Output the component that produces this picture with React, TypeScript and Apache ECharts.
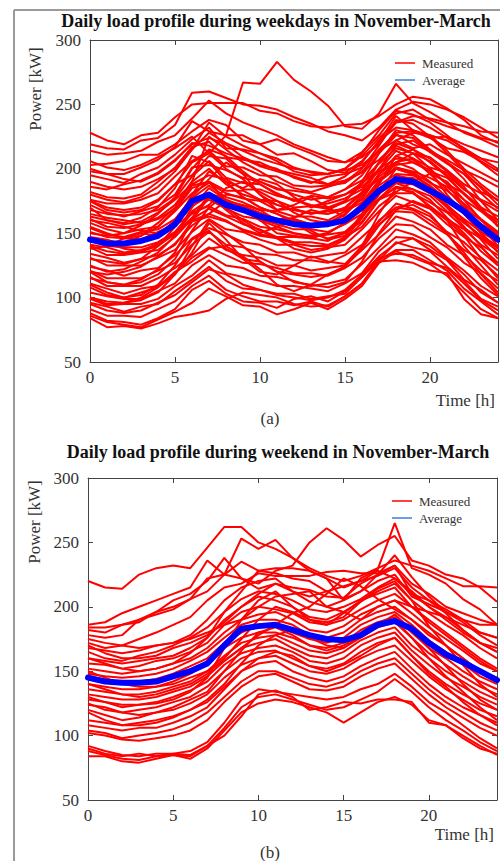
import React, { useEffect, useRef } from "react";
import * as echarts from "echarts";

const HOURS = [0, 1, 2, 3, 4, 5, 6, 7, 8, 9, 10, 11, 12, 13, 14, 15, 16, 17, 18, 19, 20, 21, 22, 23, 24];
const X_TICKS = [0, 5, 10, 15, 20];
const Y_TICKS = [50, 100, 150, 200, 250, 300];

const WEEKDAY_AVG = [145, 142, 142, 144, 148, 157, 175, 180, 172, 168, 163, 160, 157, 156, 157, 160, 170, 183, 192, 190, 183, 176, 167, 155, 145];
const WEEKEND_AVG = [145, 142, 141, 141, 142, 146, 150, 156, 170, 183, 185, 186, 182, 178, 175, 174, 178, 186, 189, 183, 172, 163, 157, 150, 143];

const WEEKDAY_MEASURED: number[][] = [
  [228, 222, 219, 226, 228, 240, 250, 251, 251, 251, 245, 243, 237, 233, 232, 234, 235, 241, 250, 256, 254, 247, 238, 226, 220],
  [219, 216, 215, 222, 224, 234, 259, 260, 255, 250, 249, 246, 240, 235, 229, 226, 222, 232, 246, 252, 250, 246, 240, 232, 224],
  [206, 201, 199, 203, 209, 216, 225, 212, 226, 267, 266, 283, 269, 260, 249, 233, 231, 243, 266, 251, 244, 236, 228, 223, 217],
  [214, 211, 212, 214, 221, 226, 239, 253, 243, 236, 231, 226, 219, 214, 209, 205, 213, 226, 243, 246, 238, 233, 229, 224, 221],
  [203, 204, 206, 211, 211, 219, 229, 238, 234, 222, 219, 223, 217, 212, 206, 205, 209, 219, 236, 241, 239, 236, 233, 229, 228],
  [198, 196, 196, 201, 207, 217, 237, 229, 226, 226, 219, 211, 212, 206, 199, 197, 206, 221, 241, 230, 224, 225, 219, 214, 209],
  [195, 192, 189, 196, 201, 211, 223, 232, 216, 215, 212, 208, 201, 197, 196, 199, 203, 214, 228, 229, 224, 216, 213, 206, 198],
  [186, 184, 188, 191, 197, 207, 219, 224, 219, 209, 203, 200, 193, 189, 194, 196, 201, 214, 222, 216, 219, 211, 204, 197, 190],
  [182, 178, 177, 180, 190, 201, 217, 221, 209, 207, 205, 199, 196, 193, 188, 191, 197, 215, 227, 219, 214, 207, 199, 193, 186],
  [176, 173, 173, 176, 181, 194, 206, 214, 202, 201, 195, 194, 187, 186, 187, 189, 198, 207, 219, 222, 213, 204, 196, 182, 176],
  [172, 166, 163, 167, 171, 180, 201, 203, 199, 193, 190, 184, 183, 181, 178, 184, 191, 204, 216, 212, 209, 199, 188, 181, 169],
  [168, 165, 164, 165, 168, 177, 194, 206, 193, 189, 188, 181, 175, 179, 177, 180, 189, 199, 214, 208, 201, 197, 184, 175, 167],
  [163, 160, 157, 159, 166, 176, 188, 195, 192, 184, 184, 179, 176, 171, 173, 177, 184, 200, 208, 207, 198, 193, 181, 170, 163],
  [161, 155, 154, 157, 161, 169, 187, 190, 183, 183, 176, 175, 170, 171, 169, 174, 181, 194, 203, 205, 199, 188, 181, 168, 158],
  [158, 153, 150, 153, 155, 167, 181, 189, 181, 177, 175, 168, 169, 165, 167, 169, 181, 192, 201, 198, 193, 186, 176, 167, 156],
  [154, 149, 147, 151, 153, 161, 177, 187, 178, 174, 168, 167, 163, 163, 160, 167, 174, 191, 201, 197, 189, 183, 173, 161, 151],
  [151, 147, 146, 145, 151, 157, 174, 181, 176, 171, 166, 161, 161, 157, 159, 160, 173, 187, 196, 195, 187, 176, 169, 157, 149],
  [147, 145, 141, 144, 148, 156, 171, 179, 170, 169, 164, 159, 158, 155, 157, 161, 169, 183, 193, 193, 184, 177, 165, 156, 145],
  [146, 140, 139, 139, 143, 151, 167, 176, 169, 163, 161, 157, 153, 153, 151, 157, 165, 181, 189, 188, 181, 171, 161, 151, 143],
  [141, 139, 135, 137, 141, 149, 166, 171, 164, 161, 155, 153, 150, 147, 149, 151, 163, 177, 189, 184, 179, 167, 159, 147, 139],
  [139, 133, 133, 135, 137, 147, 161, 169, 163, 157, 153, 147, 147, 146, 144, 151, 159, 176, 186, 181, 174, 166, 154, 146, 136],
  [134, 131, 127, 130, 133, 141, 159, 163, 159, 153, 149, 147, 143, 143, 141, 147, 155, 171, 181, 181, 171, 161, 153, 141, 133],
  [131, 125, 125, 125, 131, 137, 151, 161, 153, 151, 145, 141, 141, 137, 139, 141, 153, 167, 179, 174, 169, 157, 147, 139, 127],
  [124, 121, 117, 121, 123, 133, 146, 154, 149, 143, 141, 135, 135, 131, 133, 135, 147, 159, 173, 169, 163, 151, 143, 131, 121],
  [121, 115, 115, 115, 121, 127, 141, 151, 141, 139, 134, 133, 129, 129, 127, 133, 141, 157, 167, 166, 157, 149, 137, 129, 117],
  [116, 109, 109, 109, 115, 123, 133, 146, 137, 133, 131, 125, 125, 121, 123, 125, 137, 149, 163, 159, 153, 141, 133, 121, 113],
  [111, 107, 103, 107, 109, 119, 131, 139, 133, 127, 126, 123, 119, 119, 117, 123, 131, 146, 157, 156, 147, 139, 127, 119, 107],
  [104, 101, 99, 99, 105, 111, 125, 133, 125, 123, 117, 116, 113, 109, 111, 114, 126, 139, 153, 149, 143, 131, 121, 109, 101],
  [99, 94, 95, 95, 99, 109, 117, 129, 119, 116, 113, 109, 109, 107, 105, 111, 119, 136, 147, 146, 137, 129, 114, 106, 96],
  [96, 93, 89, 93, 95, 105, 114, 124, 113, 107, 106, 103, 103, 99, 101, 103, 116, 129, 143, 139, 136, 124, 113, 99, 93],
  [91, 86, 86, 85, 91, 97, 109, 117, 106, 101, 97, 97, 94, 97, 93, 101, 111, 129, 137, 137, 129, 121, 107, 97, 87],
  [86, 81, 79, 77, 83, 89, 96, 107, 101, 94, 93, 87, 91, 96, 91, 99, 109, 127, 136, 131, 126, 117, 104, 91, 84],
  [84, 77, 78, 76, 80, 85, 87, 90, 99, 104, 102, 100, 95, 93, 94, 101, 111, 128, 129, 127, 121, 119, 99, 87, 84],
  [88, 82, 81, 79, 84, 91, 106, 113, 103, 97, 96, 92, 99, 101, 97, 105, 116, 131, 134, 133, 127, 123, 111, 98, 90],
  [120, 112, 110, 112, 118, 130, 152, 170, 180, 178, 170, 165, 158, 150, 146, 150, 162, 182, 200, 196, 186, 172, 160, 145, 130],
  [160, 158, 155, 152, 150, 156, 165, 172, 185, 190, 182, 175, 166, 160, 158, 164, 178, 196, 210, 215, 205, 194, 180, 168, 160],
  [100, 97, 96, 98, 104, 118, 140, 160, 150, 140, 128, 120, 118, 116, 118, 124, 140, 160, 170, 168, 160, 150, 135, 118, 104],
  [140, 136, 134, 136, 142, 150, 160, 165, 175, 170, 160, 150, 148, 146, 150, 158, 168, 176, 182, 190, 196, 190, 176, 160, 148],
  [110, 104, 100, 102, 110, 125, 145, 152, 138, 130, 128, 120, 112, 110, 108, 112, 128, 150, 168, 175, 170, 160, 148, 130, 115],
  [175, 170, 168, 170, 176, 188, 205, 212, 200, 192, 180, 172, 168, 165, 168, 175, 188, 205, 222, 228, 226, 214, 200, 188, 178],
  [150, 148, 150, 156, 165, 178, 200, 215, 210, 198, 188, 180, 176, 172, 170, 175, 190, 212, 230, 226, 215, 205, 192, 175, 160],
  [130, 128, 126, 130, 140, 155, 180, 198, 190, 178, 170, 165, 160, 156, 158, 165, 180, 200, 218, 212, 200, 188, 172, 155, 140],
  [165, 162, 160, 158, 162, 172, 190, 225, 215, 205, 198, 190, 185, 182, 186, 190, 200, 218, 238, 235, 225, 212, 198, 185, 172],
  [180, 176, 174, 178, 186, 198, 215, 236, 225, 218, 212, 206, 198, 195, 196, 200, 212, 230, 245, 242, 236, 226, 215, 205, 195],
  [125, 120, 122, 128, 135, 148, 170, 185, 176, 168, 160, 155, 150, 148, 150, 158, 172, 190, 205, 200, 190, 178, 166, 150, 135],
  [145, 140, 142, 148, 158, 170, 190, 200, 188, 180, 176, 172, 168, 166, 165, 170, 182, 205, 220, 215, 208, 198, 186, 170, 155],
  [115, 112, 110, 114, 122, 135, 160, 178, 170, 160, 152, 146, 142, 140, 140, 146, 162, 180, 195, 192, 182, 170, 155, 140, 125],
  [190, 186, 184, 186, 192, 200, 215, 228, 220, 214, 208, 204, 200, 198, 196, 200, 210, 224, 236, 238, 232, 224, 216, 208, 200],
  [170, 160, 158, 162, 170, 185, 210, 205, 190, 185, 192, 188, 178, 170, 175, 180, 186, 198, 205, 212, 206, 195, 184, 176, 170],
  [138, 140, 146, 150, 148, 160, 178, 192, 205, 196, 180, 168, 172, 178, 170, 162, 170, 188, 210, 205, 198, 180, 165, 150, 138],
  [108, 102, 100, 104, 108, 118, 135, 158, 145, 130, 120, 118, 125, 132, 128, 126, 140, 165, 185, 182, 170, 160, 140, 125, 110],
  [155, 150, 146, 148, 155, 168, 185, 190, 175, 172, 168, 160, 162, 168, 165, 168, 176, 196, 205, 208, 196, 184, 170, 160, 150],
  [100, 95, 96, 100, 108, 120, 128, 138, 140, 132, 122, 110, 105, 110, 118, 124, 138, 156, 170, 172, 165, 150, 132, 115, 102],
  [145, 142, 138, 136, 140, 150, 162, 180, 168, 158, 150, 155, 160, 152, 145, 148, 165, 190, 200, 196, 185, 170, 158, 148, 140],
  [200, 196, 192, 190, 196, 206, 220, 218, 212, 208, 202, 198, 194, 190, 188, 194, 205, 222, 232, 230, 226, 222, 214, 208, 205],
  [120, 118, 120, 124, 132, 142, 156, 165, 160, 152, 148, 146, 138, 135, 138, 145, 158, 176, 186, 184, 176, 162, 150, 136, 125],
  [95, 90, 88, 90, 96, 102, 112, 122, 118, 110, 106, 102, 100, 98, 100, 106, 118, 132, 142, 146, 140, 130, 118, 104, 96],
  [175, 168, 166, 168, 175, 188, 195, 210, 208, 196, 190, 185, 180, 176, 178, 184, 195, 212, 226, 224, 214, 205, 196, 186, 175],
];

const WEEKEND_MEASURED: number[][] = [
  [220, 215, 214, 225, 230, 232, 230, 246, 262, 262, 250, 245, 238, 230, 224, 220, 224, 230, 236, 232, 228, 222, 216, 216, 215],
  [186, 188, 195, 200, 205, 210, 215, 236, 225, 222, 218, 228, 232, 250, 261, 252, 239, 248, 255, 236, 232, 225, 222, 215, 204],
  [182, 180, 186, 188, 196, 200, 206, 222, 225, 253, 245, 252, 238, 228, 222, 205, 222, 229, 265, 230, 225, 218, 206, 198, 186],
  [178, 176, 178, 190, 196, 205, 210, 220, 238, 222, 214, 218, 215, 213, 208, 207, 218, 225, 240, 223, 208, 196, 190, 186, 186],
  [172, 168, 170, 175, 180, 186, 192, 205, 215, 218, 226, 224, 224, 224, 227, 228, 226, 226, 232, 210, 205, 198, 190, 180, 176],
  [168, 166, 164, 166, 170, 172, 178, 190, 205, 215, 220, 222, 212, 204, 200, 205, 212, 220, 225, 208, 202, 196, 188, 178, 170],
  [165, 160, 158, 162, 165, 170, 176, 184, 196, 206, 212, 210, 205, 198, 196, 200, 206, 215, 222, 210, 200, 192, 182, 172, 165],
  [160, 158, 156, 158, 160, 162, 168, 176, 190, 200, 208, 205, 200, 192, 190, 196, 204, 212, 218, 205, 195, 186, 178, 168, 160],
  [156, 155, 152, 154, 158, 160, 165, 172, 186, 196, 200, 198, 195, 188, 186, 190, 198, 205, 210, 200, 190, 180, 170, 160, 152],
  [152, 150, 148, 150, 152, 156, 160, 168, 180, 190, 194, 196, 190, 182, 180, 185, 194, 200, 205, 195, 184, 175, 166, 156, 150],
  [148, 146, 145, 146, 148, 152, 158, 165, 176, 186, 190, 190, 186, 178, 176, 180, 190, 196, 200, 190, 178, 170, 160, 150, 145],
  [144, 142, 140, 142, 144, 148, 154, 160, 172, 180, 186, 185, 180, 175, 172, 176, 186, 192, 196, 186, 174, 165, 156, 146, 140],
  [140, 138, 136, 136, 138, 142, 148, 156, 168, 176, 180, 180, 176, 170, 168, 172, 182, 188, 192, 180, 168, 160, 150, 142, 136],
  [136, 134, 132, 132, 134, 138, 142, 150, 162, 172, 176, 178, 172, 166, 164, 168, 178, 184, 188, 176, 164, 155, 146, 138, 132],
  [132, 130, 128, 128, 130, 134, 138, 146, 158, 168, 172, 175, 168, 162, 160, 165, 174, 180, 184, 170, 160, 150, 142, 134, 128],
  [128, 126, 124, 124, 126, 130, 135, 142, 155, 164, 168, 170, 165, 158, 156, 160, 170, 176, 180, 166, 155, 145, 138, 130, 124],
  [125, 120, 118, 120, 122, 126, 130, 138, 150, 160, 165, 166, 160, 154, 152, 156, 165, 172, 176, 162, 150, 140, 132, 125, 120],
  [120, 116, 112, 114, 118, 120, 125, 132, 145, 155, 160, 162, 156, 150, 148, 152, 160, 166, 170, 158, 146, 136, 128, 120, 115],
  [118, 112, 108, 110, 112, 115, 120, 126, 138, 150, 156, 158, 150, 145, 142, 146, 154, 160, 165, 152, 140, 130, 122, 116, 110],
  [104, 102, 98, 100, 102, 105, 110, 118, 130, 142, 150, 150, 145, 140, 138, 142, 150, 156, 160, 148, 136, 126, 118, 110, 104],
  [102, 100, 97, 96, 98, 100, 104, 112, 126, 138, 146, 148, 142, 136, 135, 138, 146, 152, 156, 144, 132, 122, 114, 106, 100],
  [92, 88, 85, 84, 86, 86, 88, 95, 110, 128, 136, 134, 132, 130, 128, 130, 136, 140, 148, 138, 126, 118, 108, 98, 90],
  [88, 85, 82, 81, 84, 85, 84, 92, 106, 122, 130, 132, 128, 124, 120, 122, 128, 134, 144, 134, 122, 112, 104, 95, 88],
  [84, 84, 80, 79, 82, 85, 82, 90, 104, 118, 125, 128, 126, 122, 118, 110, 118, 126, 130, 124, 112, 108, 100, 92, 85],
  [90, 86, 84, 86, 84, 86, 85, 92, 100, 115, 132, 135, 130, 120, 122, 126, 125, 128, 128, 126, 110, 108, 98, 90, 86],
  [175, 172, 170, 168, 170, 172, 175, 180, 186, 190, 200, 208, 210, 212, 200, 196, 190, 200, 205, 200, 196, 192, 186, 180, 176],
  [130, 126, 122, 124, 125, 128, 134, 145, 168, 190, 205, 212, 200, 190, 188, 192, 204, 214, 220, 205, 185, 170, 155, 140, 130],
  [150, 145, 140, 138, 138, 140, 145, 150, 158, 168, 178, 186, 195, 200, 210, 222, 216, 206, 198, 190, 180, 170, 160, 150, 142],
  [112, 110, 108, 108, 110, 114, 120, 128, 140, 156, 170, 178, 182, 176, 170, 168, 176, 184, 190, 176, 160, 146, 134, 122, 112],
  [160, 156, 152, 150, 152, 156, 164, 176, 196, 212, 228, 230, 230, 228, 222, 215, 220, 228, 222, 212, 200, 190, 180, 172, 168],
  [184, 184, 186, 190, 194, 198, 206, 212, 225, 235, 228, 226, 222, 220, 212, 206, 212, 225, 232, 218, 210, 200, 195, 190, 186],
  [140, 136, 132, 130, 132, 136, 140, 148, 160, 175, 190, 200, 196, 190, 186, 195, 205, 210, 215, 200, 188, 178, 168, 158, 150],
  [124, 122, 118, 116, 118, 122, 128, 134, 150, 166, 180, 184, 178, 170, 166, 170, 178, 186, 194, 182, 168, 154, 140, 128, 120],
  [170, 164, 160, 160, 162, 168, 172, 178, 188, 200, 210, 218, 212, 208, 212, 216, 220, 224, 230, 215, 205, 195, 182, 172, 165],
  [108, 106, 104, 106, 106, 110, 115, 122, 136, 150, 160, 165, 162, 154, 150, 155, 162, 170, 176, 162, 148, 138, 126, 116, 108],
];

const SERIF = '"Liberation Serif", "Times New Roman", serif';
const AXIS_COLOR = "#444";

export default function App() {
  const ref = useRef<HTMLDivElement>(null);

  useEffect(() => {
    const chart = echarts.init(ref.current!, null, { renderer: "svg" });

    const grids = [
      { left: 90, top: 40, width: 408, height: 322 },
      { left: 88, top: 478, width: 409, height: 322 },
    ];

    const baseAxis = {
      axisLine: { show: true, onZero: false, lineStyle: { color: AXIS_COLOR, width: 1 } },
      axisTick: { show: true, inside: true, length: 5, lineStyle: { color: AXIS_COLOR } },
      splitLine: { show: false },
    };
    const xAxes: any[] = [];
    const yAxes: any[] = [];
    grids.forEach((_, i) => {
      xAxes.push({
        ...baseAxis,
        type: "value",
        gridIndex: i,
        min: 0,
        max: 24,
        interval: 5,
        position: "bottom",
        axisLabel: {
          color: "#333",
          fontFamily: SERIF,
          fontSize: 17,
          margin: 7,
          customValues: X_TICKS,
        },
      });
      xAxes.push({
        ...baseAxis,
        type: "value",
        gridIndex: i,
        min: 0,
        max: 24,
        interval: 5,
        position: "top",
        axisLabel: { show: false },
      });
      yAxes.push({
        ...baseAxis,
        type: "value",
        gridIndex: i,
        min: 50,
        max: 300,
        interval: 50,
        position: "left",
        axisLabel: {
          color: "#333",
          fontFamily: SERIF,
          fontSize: 17,
          margin: 9,
          customValues: Y_TICKS,
        },
      });
      yAxes.push({
        ...baseAxis,
        type: "value",
        gridIndex: i,
        min: 50,
        max: 300,
        interval: 50,
        position: "right",
        axisLabel: { show: false },
      });
    });

    const toPoints = (row: number[]) => HOURS.map((h, j) => [h, row[j]]);
    const series: any[] = [];
    const addSet = (rows: number[][], avg: number[], gi: number) => {
      rows.forEach((row) => {
        series.push({
          type: "line",
          name: "Measured",
          xAxisIndex: gi * 2,
          yAxisIndex: gi * 2,
          data: toPoints(row),
          symbol: "none",
          silent: true,
          z: 2,
          lineStyle: { color: "#ff0000", width: 2 },
          itemStyle: { color: "#ff0000" },
        });
      });
      series.push({
        type: "line",
        name: "Average",
        xAxisIndex: gi * 2,
        yAxisIndex: gi * 2,
        data: toPoints(avg),
        symbol: "none",
        silent: true,
        z: 3,
        lineStyle: { color: "#0000ff", width: 6, cap: "round", join: "round" },
        itemStyle: { color: "#0000ff" },
      });
    };
    addSet(WEEKDAY_MEASURED, WEEKDAY_AVG, 0);
    addSet(WEEKEND_MEASURED, WEEKEND_AVG, 1);

    const txt = (x: number, y: number, text: string, extra: any = {}) => ({
      type: "text",
      x,
      y,
      z: 10,
      style: {
        text,
        fill: "#222",
        font: `17px ${SERIF}`,
        textAlign: "center",
        textVerticalAlign: "middle",
        ...extra,
      },
    });

    const legend = (x: number, y: number) => [
      { type: "line", z: 10, shape: { x1: x, y1: y, x2: x + 20, y2: y }, style: { stroke: "#ff0000", lineWidth: 1.5 } },
      txt(x + 27, y, "Measured", { textAlign: "left", font: `13px ${SERIF}`, fill: "#333" }),
      { type: "line", z: 10, shape: { x1: x, y1: y + 17, x2: x + 20, y2: y + 17 }, style: { stroke: "#3a7ee0", lineWidth: 1.5 } },
      txt(x + 27, y + 17, "Average", { textAlign: "left", font: `13px ${SERIF}`, fill: "#333" }),
    ];

    chart.setOption({
      animation: false,
      backgroundColor: "#ffffff",
      grid: grids,
      xAxis: xAxes,
      yAxis: yAxes,
      series,
      graphic: [
        { type: "line", shape: { x1: 14, y1: 10, x2: 14, y2: 861 }, style: { stroke: "#9a9a9a", lineWidth: 2 } },
        { type: "line", shape: { x1: 14, y1: 10, x2: 500, y2: 10 }, style: { stroke: "#9a9a9a", lineWidth: 2 } },
        txt(276, 21, "Daily load profile during weekdays in November-March", { font: `bold 18px ${SERIF}`, fill: "#111" }),
        txt(278, 452, "Daily load profile during weekend in November-March", { font: `bold 18px ${SERIF}`, fill: "#111" }),
        { ...txt(35, 89, "Power [kW]", { fill: "#333" }), rotation: Math.PI / 2 },
        { ...txt(34, 522, "Power [kW]", { fill: "#333" }), rotation: Math.PI / 2 },
        txt(495, 400, "Time [h]", { textAlign: "right", fill: "#333" }),
        txt(494, 834, "Time [h]", { textAlign: "right", fill: "#333" }),
        txt(270, 418, "(a)", { fill: "#333" }),
        txt(270, 852, "(b)", { fill: "#333" }),
        ...legend(395, 63),
        ...legend(392, 501),
      ],
    });

    return () => chart.dispose();
  }, []);

  return <div ref={ref} style={{ position: "fixed", left: 0, top: 0, width: 500, height: 861 }} />;
}
